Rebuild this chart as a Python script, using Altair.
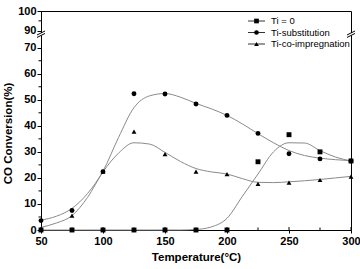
import altair as alt
import pandas as pd

# Measured CO conversion (%) at each reaction temperature (°C)
temps = [50, 75, 100, 125, 150, 175, 200, 225, 250, 275, 300]
ti_zero = [0, 0, 0, 0, 0, 0, 0, 26.2, 36.6, 30.0, 26.5]
ti_sub = [3.6, 7.5, 22.4, 52.3, 52.2, 48.4, 44.0, 37.1, 29.3, 27.3, 26.5]
ti_coimp = [0.4, 5.5, 22.4, 37.8, 29.1, 22.4, 21.5, 17.7, 18.2, 19.2, 20.5]

# Smoothed fit curves sampled every 12.5 °C
fit_temps = [50, 62.5, 75, 87.5, 100, 112.5, 125, 137.5, 150, 162.5, 175,
             187.5, 200, 212.5, 225, 237.5, 250, 262.5, 275, 287.5, 300]
fit_zero = [0, 0, 0, 0, 0, 0, 0, 0, 0, 0, 0.2,
            1.2, 4.5, 13.0, 21.5, 30.0, 33.5, 33.4, 30.5, 28.0, 26.5]
fit_sub = [3.8, 5.3, 8.3, 14.0, 22.6, 35.5, 47.0, 51.5, 52.4, 51.0, 48.6,
           46.5, 44.0, 40.7, 37.0, 33.5, 30.5, 28.6, 27.6, 27.0, 26.6]
fit_coimp = [1.0, 2.7, 5.5, 12.5, 22.3, 29.5, 33.5, 33.0, 29.8, 26.3, 23.6,
             22.3, 21.5, 19.7, 18.3, 18.2, 18.5, 18.9, 19.4, 20.0, 20.6]

series_names = ["Ti = 0", "Ti-substitution", "Ti-co-impregnation"]
series_shapes = ["square", "circle", "triangle-up"]

x_major = [50, 100, 150, 200, 250, 300]
x_minor = [75, 125, 175, 225, 275]
y_major = [0, 10, 20, 30, 40, 50, 60, 70, 90, 100]
y_minor = [5, 15, 25, 35, 45, 55, 65, 95]
break_levels = [84.4, 87.3]

W, H = 310, 219
FONT = "Liberation Sans"

points = pd.DataFrame({
    "T": temps * 3,
    "v": ti_zero + ti_sub + ti_coimp,
    "s": sum([[n] * len(temps) for n in series_names], []),
})
fits = pd.DataFrame({
    "T": fit_temps * 3,
    "v": fit_zero + fit_sub + fit_coimp,
    "s": sum([[n] * len(fit_temps) for n in series_names], []),
})

# broken y axis: 0-70 lower segment, 90-100 upper segment
xs = alt.Scale(domain=[50, 300], nice=False, zero=False)
ys = alt.Scale(domain=[0, 70, 90, 100], range=[H, 36.7, 19.7, 0],
               nice=False, zero=False)

common_axis = dict(
    grid=False, labelFontWeight="bold", titleFontWeight="bold",
    labelFontSize=11, titleFontSize=11.5, labelFont=FONT, titleFont=FONT,
    domainColor="black", tickColor="black", labelColor="black",
    titleColor="black", labelOverlap=False, labelBound=False,
    labelFlush=False, tickCount=30,
)
x_axis = alt.Axis(values=x_major, title="Temperature(°C)", tickSize=3,
                  labelPadding=2, titlePadding=5, **common_axis)
y_axis = alt.Axis(values=y_major, title="CO Conversion(%)", tickSize=4,
                  labelPadding=1, titlePadding=4, titleY=122, **common_axis)

curves = alt.Chart(fits).mark_line(
    interpolate="monotone", color="#8a8a8a", strokeWidth=1
).encode(
    x=alt.X("T:Q", scale=xs, axis=x_axis),
    y=alt.Y("v:Q", scale=ys, axis=y_axis),
    detail="s:N",
)

markers = alt.Chart(points).mark_point(
    filled=True, color="black", opacity=1, size=24, clip=False
).encode(
    x=alt.X("T:Q", scale=xs),
    y=alt.Y("v:Q", scale=ys),
    shape=alt.Shape("s:N", scale=alt.Scale(domain=series_names,
                                           range=series_shapes),
                    legend=None),
)

# minor ticks on the y axis (outward) and inward ticks on the x axis
y_minor_ticks = alt.Chart(pd.DataFrame({"v": y_minor})).mark_rule(
    color="black", strokeWidth=1
).encode(x=alt.value(0), x2=alt.value(-2.5), y=alt.Y("v:Q", scale=ys))

x_in_major = alt.Chart(pd.DataFrame({"T": x_major})).mark_rule(
    color="black", strokeWidth=1
).encode(x=alt.X("T:Q", scale=xs), y=alt.value(H), y2=alt.value(H - 3))

x_in_minor = alt.Chart(pd.DataFrame({"T": x_minor})).mark_rule(
    color="black", strokeWidth=1
).encode(x=alt.X("T:Q", scale=xs), y=alt.value(H), y2=alt.value(H - 2.5))

# axis-break markers on the left and right edges
brk = pd.DataFrame({
    "T": [50, 50, 300, 300],
    "v": break_levels * 2,
})
break_gap = alt.Chart(pd.DataFrame({"T": [50, 300]})).mark_rule(
    color="white", strokeWidth=3
).encode(x=alt.X("T:Q", scale=xs),
         y=alt.Y("lo:Q", scale=ys), y2="hi:Q").transform_calculate(
    lo=str(break_levels[0]), hi=str(break_levels[1]))
break_marks = alt.Chart(brk).mark_rule(
    color="black", strokeWidth=1, xOffset=-4, x2Offset=4,
    yOffset=2, y2Offset=-2
).encode(x=alt.X("T:Q", scale=xs), x2="T:Q",
         y=alt.Y("v:Q", scale=ys), y2="v:Q")

# legend: short line with the series marker, then the label
legend_layers = []
row_y = [10, 21.5, 33]
for name, shape, ry in zip(series_names, series_shapes, row_y):
    legend_layers.append(
        alt.Chart(pd.DataFrame({"s": [name]})).mark_rule(
            color="#333", strokeWidth=1
        ).encode(x=alt.value(207), x2=alt.value(224), y=alt.value(ry))
    )
    legend_layers.append(
        alt.Chart(pd.DataFrame({"s": [name]})).mark_point(
            filled=True, color="black", opacity=1, size=22, shape=shape
        ).encode(x=alt.value(215.5), y=alt.value(ry))
    )
    legend_layers.append(
        alt.Chart(pd.DataFrame({"s": [name]})).mark_text(
            align="left", baseline="middle", font=FONT, fontSize=9.5,
            color="black"
        ).encode(x=alt.value(230), y=alt.value(ry), text="s:N")
    )

chart = alt.layer(
    curves, markers, y_minor_ticks, x_in_major, x_in_minor,
    break_gap, break_marks, *legend_layers
).properties(
    width=W, height=H,
    autosize=alt.AutoSizeParams(type="none"),
    padding={"left": 41, "top": 11, "right": 9, "bottom": 39},
    background="white",
).configure_view(stroke="black", strokeWidth=1)

chart.save("out.html", embed_options={"renderer": "svg", "actions": False})
